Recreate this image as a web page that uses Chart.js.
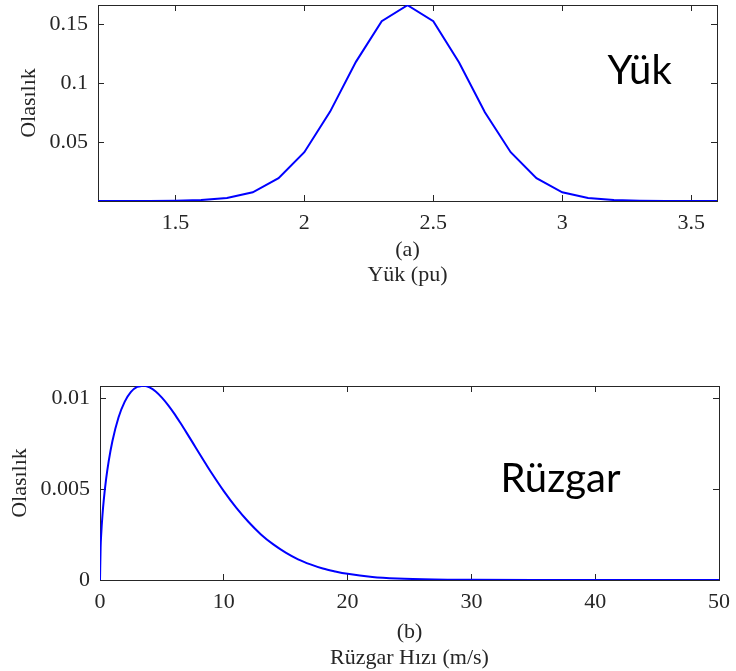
<!DOCTYPE html>
<html>
<head>
<meta charset="utf-8">
<script src="https://cdn.jsdelivr.net/npm/chart.js@4"></script>
<style>
  html, body { margin: 0; padding: 0; background: #fff; }
  #wrap { position: relative; width: 736px; height: 671px; }
  canvas { position: absolute; left: 0; }
  #loadChart { top: 0; }
  #windChart { top: 370px; }
</style>
</head>
<body>
<div id="wrap">
  <canvas id="loadChart" width="736" height="290"></canvas>
  <canvas id="windChart" width="736" height="301"></canvas>
</div>
<script>
// (a) load distribution, 0.1 pu steps
const loadX = [1.2, 1.3, 1.4, 1.5, 1.6, 1.7, 1.8, 1.9, 2.0, 2.1, 2.2, 2.3, 2.4,
               2.5, 2.6, 2.7, 2.8, 2.9, 3.0, 3.1, 3.2, 3.3, 3.4, 3.5, 3.6];
const loadY = [0, 0.00001, 0.00005, 0.0002, 0.0008, 0.0026, 0.0074, 0.0193, 0.0414, 0.0758, 0.1180, 0.1524, 0.1660,
               0.1524, 0.1175, 0.0752, 0.0414, 0.0193, 0.0074, 0.0026, 0.0008, 0.0002, 0.00005, 0.00001, 0];
const loadXTicks = [1.5, 2, 2.5, 3, 3.5];
const loadYTicks = [0.05, 0.1, 0.15];

// (b) wind speed distribution
const windX = [0, 0.05, 0.1, 0.2, 0.3, 0.5, 0.7, 1, 1.5, 2, 2.5, 3, 3.5, 4, 4.5, 5, 5.5, 6, 6.5, 7, 7.5,
               8, 8.5, 9, 10, 11, 12, 13, 14, 15, 16, 17, 18, 19, 20, 22, 24, 27, 30, 35, 40, 50];
const windY = [0, 0.00180, 0.00255, 0.00358, 0.00437, 0.00559, 0.00653, 0.00764, 0.00896, 0.00982, 0.01036,
               0.01063, 0.01070, 0.01060, 0.01038, 0.01004, 0.00963, 0.00916, 0.00864, 0.00810, 0.00755,
               0.00699, 0.00644, 0.00590, 0.00489, 0.00398, 0.00319, 0.00251, 0.00196, 0.00151, 0.00114,
               0.00086, 0.00063, 0.00047, 0.00034, 0.00017, 0.000085, 0.000027, 0.000008, 0.000001, 0, 0];
const windXTicks = [0, 10, 20, 30, 40, 50];
const windYTicks = [0, 0.005, 0.01];

const axisColor = '#262626';
const serif = '"Liberation Serif", "Times New Roman", serif';

// big sans label inside the plot
const insetLabel = {
  id: 'insetLabel',
  afterDatasetsDraw(chart, args, opts) {
    const { ctx, scales } = chart;
    ctx.save();
    ctx.font = '40px Lato';
    ctx.fillStyle = '#000';
    ctx.textAlign = 'center';
    ctx.textBaseline = 'alphabetic';
    ctx.fillText(opts.text, scales.x.getPixelForValue(opts.x), scales.y.getPixelForValue(opts.y));
    ctx.restore();
  }
};

function fixedTicks(values) {
  return scale => { scale.ticks = values.map(v => ({ value: v })); };
}

// fixed axis size, and no extra room for overhanging labels
function fitTo(prop, size) {
  return s => {
    s[prop] = size;
    s.paddingLeft = s.paddingRight = s.paddingTop = s.paddingBottom = 0;
  };
}

function grid() {
  return { drawOnChartArea: false, tickLength: -6, color: axisColor, lineWidth: 1 };
}

function makeChart(id, o) {
  const tickFont = { family: serif, size: 22 };
  return new Chart(document.getElementById(id), {
    type: 'line',
    data: {
      datasets: [{
        data: o.xs.map((x, i) => ({ x: x, y: o.ys[i] })),
        borderColor: '#0000ff',
        borderWidth: 2,
        pointRadius: 0,
        fill: false,
        cubicInterpolationMode: o.smooth ? 'monotone' : 'default',
        tension: 0
      }]
    },
    options: {
      responsive: false,
      animation: false,
      layout: { padding: { top: o.padTop, right: o.padRight, left: 0, bottom: 0 } },
      plugins: { legend: { display: false }, tooltip: { enabled: false }, insetLabel: o.label },
      scales: {
        x: {
          type: 'linear', position: 'bottom', min: o.xMin, max: o.xMax,
          afterBuildTicks: fixedTicks(o.xTicks),
          afterFit: fitTo('height', o.xHeight),
          grid: grid(),
          border: { color: axisColor, width: 1 },
          ticks: { padding: 15, font: tickFont, color: axisColor, maxRotation: 0, autoSkip: false,
                   callback: v => String(v) },
          title: { display: true, text: o.xTitle, color: axisColor,
                   font: { family: serif, size: 22, lineHeight: o.titleLine },
                   padding: { top: 0, bottom: o.titlePad } }
        },
        x2: {
          type: 'linear', position: 'top', min: o.xMin, max: o.xMax,
          afterBuildTicks: fixedTicks(o.xTicks),
          afterFit: fitTo('height', 0),
          grid: grid(),
          border: { color: axisColor, width: 1 },
          ticks: { display: false }
        },
        y: {
          type: 'linear', position: 'left', min: 0, max: o.yMax,
          afterBuildTicks: fixedTicks(o.yTicks),
          afterFit: fitTo('width', o.yWidth),
          grid: grid(),
          border: { color: axisColor, width: 1 },
          ticks: { padding: 16, font: tickFont, color: axisColor, callback: v => String(v) },
          title: { display: true, text: 'Olasılık', color: axisColor,
                   font: { family: serif, size: 22 }, padding: { top: o.yTitlePad, bottom: 0 } }
        },
        y2: {
          type: 'linear', position: 'right', min: 0, max: o.yMax,
          afterBuildTicks: fixedTicks(o.yTicks),
          afterFit: fitTo('width', 0),
          grid: grid(),
          border: { color: axisColor, width: 1 },
          ticks: { display: false }
        }
      }
    },
    plugins: [insetLabel]
  });
}

makeChart('loadChart', {
  xs: loadX, ys: loadY, smooth: false,
  xMin: 1.2, xMax: 3.6, yMax: 0.1662,
  xTicks: loadXTicks, yTicks: loadYTicks,
  padTop: 5, padRight: 19, xHeight: 89, yWidth: 98,
  xTitle: ['(a)', 'Yük (pu)'], titleLine: 25 / 22, titlePad: 2.5, yTitlePad: 16,
  label: { text: 'Yük', x: 3.3, y: 0.0993 }
});

makeChart('windChart', {
  xs: windX, ys: windY, smooth: true,
  xMin: 0, xMax: 50, yMax: 0.01068,
  xTicks: windXTicks, yTicks: windYTicks,
  padTop: 16, padRight: 17, xHeight: 91, yWidth: 100,
  xTitle: ['(b)', 'Rüzgar Hızı (m/s)'], titleLine: 26 / 22, titlePad: 0, yTitlePad: 7,
  label: { text: 'Rüzgar', x: 37.2, y: 0.00485 }
});
</script>
</body>
</html>
